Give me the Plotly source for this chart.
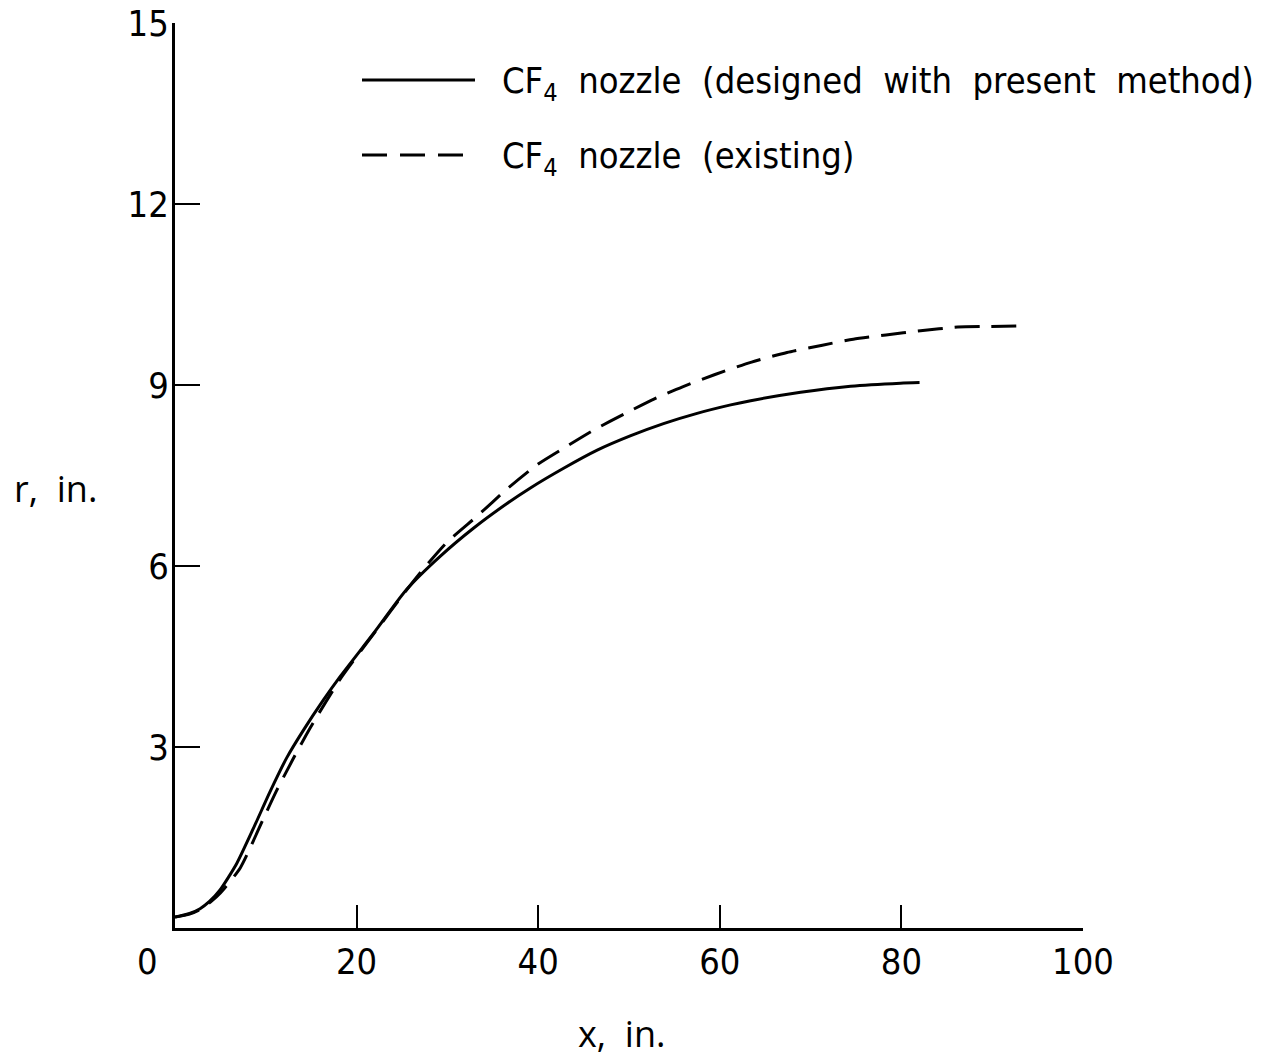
import plotly.graph_objects as go

# Solid: CF4 nozzle designed with present method
x_solid = [0, 0.55, 1.6, 2.76, 3.8, 4.96, 6.8, 8.63, 10.47, 12.3, 14.15, 16.35, 18.2, 21.9, 25.5, 29.2, 32.9,
           36.6, 39.1, 42.8, 46.5, 50.2, 53.8, 57.5, 61.2, 63.4, 68.9, 74.4, 79.9, 82.0]
r_solid = [0.18, 0.20, 0.24, 0.32, 0.44, 0.63, 1.07, 1.65, 2.26, 2.82, 3.28, 3.78, 4.17, 4.89, 5.61, 6.16, 6.63,
           7.04, 7.29, 7.62, 7.92, 8.16, 8.36, 8.53, 8.67, 8.74, 8.88, 8.98, 9.03, 9.04]

# Dashed: CF4 nozzle (existing)
x_dash = [0, 1.6, 2.8, 3.9, 5.0, 7.2, 9.7, 11.2, 13.0, 14.9, 18.3, 22.0, 25.5, 27.3, 30.0, 33.3, 36.6, 39.9,
          43.0, 46.2, 49.6, 52.8, 55.9, 59.4, 63.5, 67.4, 71.3, 74.7, 78.3, 82.1, 86.2, 89.6, 93.2]
r_dash = [0.18, 0.23, 0.31, 0.43, 0.58, 1.00, 1.80, 2.28, 2.80, 3.32, 4.15, 4.90, 5.60, 5.94, 6.40, 6.83, 7.28, 7.68,
          7.97, 8.26, 8.53, 8.77, 8.97, 9.17, 9.38, 9.54, 9.66, 9.76, 9.83, 9.90, 9.96, 9.97, 9.98]

x_ticks = [0, 20, 40, 60, 80, 100]
y_ticks = [3, 6, 9, 12, 15]
legend_labels = ["CF<sub>4</sub>  nozzle  (designed  with  present  method)", "CF<sub>4</sub>  nozzle  (existing)"]

FONT = "DejaVu Sans Condensed, Liberation Sans Narrow, Roboto, sans-serif"

fig = go.Figure()
fig.add_trace(go.Scatter(x=x_solid, y=r_solid, mode="lines",
                         line=dict(color="black", width=3, shape="spline", smoothing=0.6), showlegend=False))
fig.add_trace(go.Scatter(x=x_dash, y=r_dash, mode="lines",
                         line=dict(color="black", width=3, dash="25px,12px", shape="spline", smoothing=0.6),
                         showlegend=False))

fig.update_layout(
    width=1272, height=1060,
    margin=dict(l=175, r=189, t=23, b=132, autoexpand=False),
    plot_bgcolor="white", paper_bgcolor="white",
    font=dict(family=FONT, color="black", size=36),
)
fig.update_xaxes(range=[0, 100], tickvals=x_ticks[1:], ticktext=[str(v) for v in x_ticks[1:]],
                 ticks="inside", ticklen=23, tickwidth=2, tickcolor="black", automargin=False,
                 showline=True, linewidth=3, linecolor="black", showgrid=False, zeroline=False,
                 tickfont=dict(family=FONT, size=36), ticklabelstandoff=0)
fig.update_yaxes(range=[0, 15], tickvals=y_ticks, ticktext=[str(v) for v in y_ticks],
                 ticks="inside", ticklen=25, tickwidth=2, tickcolor="black", automargin=False,
                 showline=True, linewidth=3, linecolor="black", showgrid=False, zeroline=False,
                 tickfont=dict(family=FONT, size=36), ticklabelstandoff=-4)


def px(xp):
    return (xp - 175) / (1083 - 175)


def py(yp):
    return (928 - yp) / (928 - 23)


# x tick label "0" sits left of the origin
fig.add_annotation(x=x_ticks[0], y=0, xref="x", yref="y", text=str(x_ticks[0]), showarrow=False,
                   xshift=-28, yshift=-33, font=dict(family=FONT, size=36))

# axis titles
fig.add_annotation(x=px(622), y=py(1033), xref="paper", yref="paper", text="x,  in.",
                   xanchor="center", yanchor="middle",
                   showarrow=False, font=dict(family="Open Sans", size=36))
fig.add_annotation(x=px(55), y=py(488), xref="paper", yref="paper", text="r,  in.",
                   xanchor="center", yanchor="middle",
                   showarrow=False, font=dict(family="Open Sans", size=36))

# manual legend
fig.add_shape(type="line", xref="paper", yref="paper", x0=px(362), x1=px(475), y0=py(80), y1=py(80),
              line=dict(color="black", width=3))
fig.add_shape(type="line", xref="paper", yref="paper", x0=px(362), x1=px(475), y0=py(155), y1=py(155),
              line=dict(color="black", width=3, dash="25px,13px"))
for lab, yp in zip(legend_labels, [84, 159]):
    fig.add_annotation(x=px(500), y=py(yp), xref="paper", yref="paper", text=lab, showarrow=False,
                       xanchor="left", yanchor="middle", font=dict(family=FONT, size=36))

fig.write_html("out.html")
